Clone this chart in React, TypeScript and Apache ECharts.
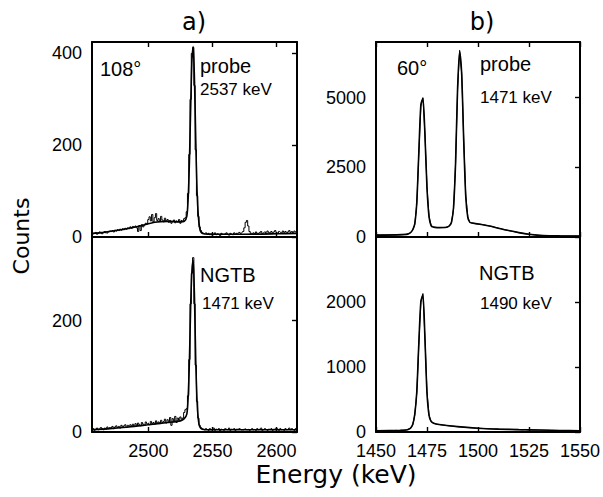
import React, { useEffect, useRef } from "react";
import * as echarts from "echarts";

// ---- panel a) : 1 keV bins starting at A_START ----
const A_START = 2456;
const A_MIN = 2456;
const A_MAX = 2616;
const A_PROBE_COUNTS = [
  9, 7, 8, 10, 6, 8, 11, 9, 7, 10, 12, 9, 8, 11, 13,
  12, 14, 11, 15, 13, 16, 14, 17, 15, 18, 16, 19, 17, 20, 18,
  22, 19, 23, 21, 24, 20, 12, 25, 14, 27, 22, 26, 30, 28,
  38, 44, 35, 49, 33, 42, 51, 36, 40, 34, 45, 37, 33, 41, 35, 38, 32, 36, 30, 34, 37, 31, 35, 33, 38, 30, 36, 34, 40, 42,
  55, 95, 180, 300, 400, 413, 330, 190, 90, 45, 22, 14, 10, 8, 7, 9,
  6, 8, 5, 7, 4, 6, 9, 5, 7, 6, 3, 8, 6, 5, 7, 9, 6, 4, 8, 7, 5, 9, 6, 8, 7, 10, 8,
  9, 12, 20, 32, 36, 24, 12, 8, 7,
  9, 6, 11, 8, 7, 10, 12, 8, 9, 11, 7, 13, 10, 8, 12, 9, 11, 14, 10, 8, 12, 11, 9, 13, 10, 12, 8, 11, 14, 10, 12, 9, 13, 11, 10,
];
const A_NGTB_COUNTS = [
  4, 6, 3, 5, 7, 4, 5, 8, 6, 4, 7, 5, 9, 6, 8,
  7, 10, 6, 9, 11, 8, 10, 7, 12, 9, 11, 13, 8, 12, 10,
  13, 11, 14, 10, 15, 12, 16, 13, 11, 17, 14, 12, 18, 15,
  16, 13, 19, 15, 17, 14, 20, 16, 18, 15, 21, 17, 19, 23, 16, 22, 18, 26, 12, 24, 19, 28, 17, 25, 21, 27, 23, 25, 35, 40,
  42, 65, 130, 230, 285, 313, 230, 120, 55, 25, 12, 8, 6, 5, 4, 6,
  5, 3, 6, 4, 5, 7, 3, 5, 4, 6, 2, 5, 4, 3, 6, 5, 4, 7, 3, 5, 4, 6, 3, 5, 4, 6, 5,
  4, 3, 5, 6, 4, 5, 3, 4, 6,
  4, 5, 3, 6, 4, 5, 7, 3, 4, 6, 5, 3, 5, 4, 6, 3, 5, 4, 7, 5, 3, 6, 4, 5, 3, 6, 4, 5, 7, 4, 6, 5, 3, 6, 5,
];
const A_PROBE_FIT_E = [2456, 2465, 2475, 2485, 2495, 2505, 2515, 2525, 2528, 2530, 2531, 2532, 2533, 2534, 2535, 2536, 2537, 2538, 2539, 2540, 2541, 2543, 2550, 2575, 2600, 2616];
const A_PROBE_FIT_Y = [8, 10, 14, 19, 25, 32, 34, 33, 34, 45, 80, 160, 280, 385, 415, 340, 210, 100, 45, 20, 11, 7, 6, 6, 7, 8];
const A_NGTB_FIT_E = [2456, 2470, 2485, 2500, 2515, 2525, 2528, 2530, 2531, 2532, 2533, 2534, 2535, 2536, 2537, 2538, 2539, 2540, 2542, 2550, 2616];
const A_NGTB_FIT_Y = [4, 6, 9, 13, 17, 20, 24, 32, 60, 125, 225, 290, 308, 240, 125, 55, 22, 10, 5, 4, 4];

// ---- panel b) : 1 keV bins starting at B_START ----
const B_START = 1450;
const B_MIN = 1450;
const B_MAX = 1550;
const B_PROBE_COUNTS = [
  70, 72, 68, 71, 73, 70, 74, 72, 75, 73, 76, 78, 80, 85, 90, 100,
  120, 160, 250, 450, 1200, 3000, 4700, 5000, 3700, 1800, 750, 420, 360, 345, 340,
  335, 338, 340, 345, 360, 400,
  520, 1000, 2600, 5300, 6700, 5900, 3500, 1500, 720, 530, 505, 495, 480,
  470, 460, 448, 435, 420, 405, 390, 372, 355, 337, 318, 300, 283, 265, 248, 232, 215, 200, 186, 172, 158, 145, 132, 120, 108, 97,
  88, 80, 72, 66, 60, 56, 52, 50, 48, 46, 45, 44, 42, 41, 40, 40, 39, 38, 38, 37, 36, 36, 35, 35, 34,
];
const B_NGTB_COUNTS = [
  20, 22, 19, 21, 23, 20, 22, 24, 21, 23, 25, 22, 26, 28, 30, 35, 45,
  60, 110, 260, 600, 1350, 2000, 2130, 1450, 620, 260, 165, 140, 128, 120,
  115, 110, 106, 102, 98, 95, 91, 88, 85, 82, 79, 76, 74, 71, 69, 66, 64, 62, 60, 58,
  56, 55, 53, 52, 50, 49, 48, 47, 45, 44, 43, 42, 41, 40, 40, 39, 38, 37, 36, 36, 35, 34, 40, 36, 33,
  32, 31, 30, 30, 29, 28, 28, 27, 27, 26, 25, 25, 24, 24, 23, 23, 22, 22, 21, 21, 20, 20, 19, 19, 18,
];
const B_PROBE_FIT_E = [1450, 1460, 1465, 1466, 1467, 1468, 1469, 1470, 1471, 1472, 1473, 1474, 1475, 1476, 1477, 1478, 1480, 1484, 1485, 1486, 1487, 1488, 1489, 1490, 1491, 1492, 1493, 1494, 1495, 1496, 1497, 1500, 1505, 1510, 1515, 1520, 1525, 1530, 1535, 1540, 1550];
const B_PROBE_FIT_Y = [68, 76, 95, 115, 160, 260, 470, 1250, 3050, 4750, 4980, 3650, 1750, 720, 410, 355, 338, 342, 355, 400, 530, 1050, 2650, 5350, 6650, 5850, 3450, 1450, 700, 525, 500, 468, 403, 316, 230, 156, 96, 60, 46, 40, 35];
const B_NGTB_FIT_E = [1450, 1462, 1465, 1466, 1467, 1468, 1469, 1470, 1471, 1472, 1473, 1474, 1475, 1476, 1477, 1478, 1480, 1490, 1500, 1510, 1520, 1530, 1540, 1550];
const B_NGTB_FIT_Y = [20, 25, 32, 42, 62, 115, 270, 620, 1370, 2010, 2110, 1430, 600, 255, 162, 138, 120, 82, 58, 44, 36, 30, 24, 18];

// ---- ticks ----
const A_X_TICKS = [2500, 2550, 2600];
const B_X_TICKS = [1450, 1475, 1500, 1525, 1550];
const A_TOP_Y_TICKS = [0, 200, 400];
const A_BOT_Y_TICKS = [0, 200];
const B_TOP_Y_TICKS = [0, 2500, 5000];
const B_BOT_Y_TICKS = [0, 1000, 2000];
const A_TOP_Y_MAX = 425;
const A_BOT_Y_MAX = 350;
const B_TOP_Y_MAX = 7000;
const B_BOT_Y_MAX = 3000;

const TICK_FONT = "'Liberation Sans', Arial, sans-serif";
const TITLE_FONT = "'DejaVu Sans', sans-serif";

function binned(start: number, counts: number[]) {
  return counts.map((c, i) => [start + i, c]);
}
function pairs(e: number[], y: number[]) {
  return e.map((x, i) => [x, y[i]]);
}
const plain = (v: number) => String(v);

export default function App() {
  const ref = useRef<HTMLDivElement>(null);
  useEffect(() => {
    if (!ref.current) return;
    const chart = echarts.init(ref.current, undefined, { renderer: "svg" });

    const grids = [
      { left: 92, top: 42, width: 205, height: 195 },
      { left: 92, top: 237, width: 205, height: 195 },
      { left: 376, top: 42, width: 204, height: 195 },
      { left: 376, top: 237, width: 204, height: 195 },
    ].map((g) => ({ ...g, show: false }));

    const panels = [
      { min: A_MIN, max: A_MAX, xt: A_X_TICKS, yt: A_TOP_Y_TICKS, ymax: A_TOP_Y_MAX, lower: false },
      { min: A_MIN, max: A_MAX, xt: A_X_TICKS, yt: A_BOT_Y_TICKS, ymax: A_BOT_Y_MAX, lower: true },
      { min: B_MIN, max: B_MAX, xt: B_X_TICKS, yt: B_TOP_Y_TICKS, ymax: B_TOP_Y_MAX, lower: false },
      { min: B_MIN, max: B_MAX, xt: B_X_TICKS, yt: B_BOT_Y_TICKS, ymax: B_BOT_Y_MAX, lower: true },
    ];

    const tickStyle = { color: "#000", width: 1.4 };
    const lineStyle = { color: "#000", width: 2 };
    const xAxis: any[] = [];
    const yAxis: any[] = [];
    panels.forEach((p, i) => {
      xAxis.push({
        type: "value", gridIndex: i, min: p.min, max: p.max, position: "bottom",
        axisLine: { show: true, onZero: false, lineStyle }, splitLine: { show: false },
        axisTick: { show: true, inside: true, length: 5, customValues: p.xt, lineStyle: tickStyle },
        axisLabel: {
          show: p.lower, customValues: p.xt, margin: 10, color: "#000",
          fontSize: 18, fontFamily: TICK_FONT, formatter: plain,
        },
      });
      xAxis.push({
        type: "value", gridIndex: i, min: p.min, max: p.max, position: "top",
        axisLine: { show: true, onZero: false, lineStyle }, splitLine: { show: false },
        axisTick: { show: !p.lower, inside: true, length: 5, customValues: p.xt, lineStyle: tickStyle },
        axisLabel: { show: false, customValues: p.xt, formatter: plain },
      });
      yAxis.push({
        type: "value", gridIndex: i, min: 0, max: p.ymax, position: "left",
        axisLine: { show: true, onZero: false, lineStyle }, splitLine: { show: false },
        axisTick: { show: false },
        axisLabel: {
          show: true, customValues: p.yt, margin: 10, color: "#000",
          fontSize: 18, fontFamily: TICK_FONT, formatter: plain,
        },
      });
      yAxis.push({
        type: "value", gridIndex: i, min: 0, max: p.ymax, position: "right",
        axisLine: { show: true, onZero: false, lineStyle }, splitLine: { show: false },
        axisTick: { show: true, inside: true, length: 5, customValues: p.yt, lineStyle: tickStyle },
        axisLabel: { show: false, customValues: p.yt, formatter: plain },
      });
    });

    const dataLine = (i: number, data: number[][], step: boolean) => ({
      type: "line", xAxisIndex: i * 2, yAxisIndex: i * 2, data, step: step ? "middle" : false,
      showSymbol: false, symbol: "none", lineStyle: { color: "#000", width: 1 }, z: 2,
    });
    const fitLine = (i: number, data: number[][]) => ({
      type: "line", xAxisIndex: i * 2, yAxisIndex: i * 2, data, smooth: 0.25,
      showSymbol: false, symbol: "none", lineStyle: { color: "#000", width: 1.6 }, z: 3,
    });

    const txt = (text: string, x: number, y: number, size: number, font = TICK_FONT, extra: any = {}) => ({
      type: "text", x, y,
      style: {
        text, fill: "#000", fontSize: size, fontFamily: font,
        textAlign: extra.align || "left", textVerticalAlign: "middle",
      },
    });

    chart.setOption({
      animation: false,
      backgroundColor: "#fff",
      grid: grids,
      xAxis,
      yAxis,
      series: [
        dataLine(0, binned(A_START, A_PROBE_COUNTS), true),
        fitLine(0, pairs(A_PROBE_FIT_E, A_PROBE_FIT_Y)),
        dataLine(1, binned(A_START, A_NGTB_COUNTS), true),
        fitLine(1, pairs(A_NGTB_FIT_E, A_NGTB_FIT_Y)),
        dataLine(2, binned(B_START, B_PROBE_COUNTS), false),
        fitLine(2, pairs(B_PROBE_FIT_E, B_PROBE_FIT_Y)),
        dataLine(3, binned(B_START, B_NGTB_COUNTS), false),
        fitLine(3, pairs(B_NGTB_FIT_E, B_NGTB_FIT_Y)),
      ],
      graphic: [
        txt("a)", 194, 22, 24, TITLE_FONT, { align: "center" }),
        txt("b)", 482, 22, 24, TITLE_FONT, { align: "center" }),
        txt("108°", 100, 69, 20),
        txt("probe", 200, 66, 20),
        txt("2537 keV", 200, 89, 17),
        txt("60°", 397, 68, 20),
        txt("probe", 480, 64, 20),
        txt("1471 keV", 480, 97, 17),
        txt("NGTB", 200, 275, 20),
        txt("1471 keV", 202, 303, 17),
        txt("NGTB", 479, 273, 20),
        txt("1490 keV", 480, 303, 17),
        {
          type: "text", x: 21, y: 236, rotation: Math.PI / 2,
          style: {
            text: "Counts", fill: "#000", fontSize: 22, fontFamily: TITLE_FONT,
            textAlign: "center", textVerticalAlign: "middle",
          },
        },
        txt("Energy (keV)", 336, 474, 25, TITLE_FONT, { align: "center" }),
      ],
    });
    return () => chart.dispose();
  }, []);

  return (
    <div
      ref={ref}
      style={{ position: "fixed", left: 0, top: 0, width: 603, height: 497, background: "#fff" }}
    />
  );
}
